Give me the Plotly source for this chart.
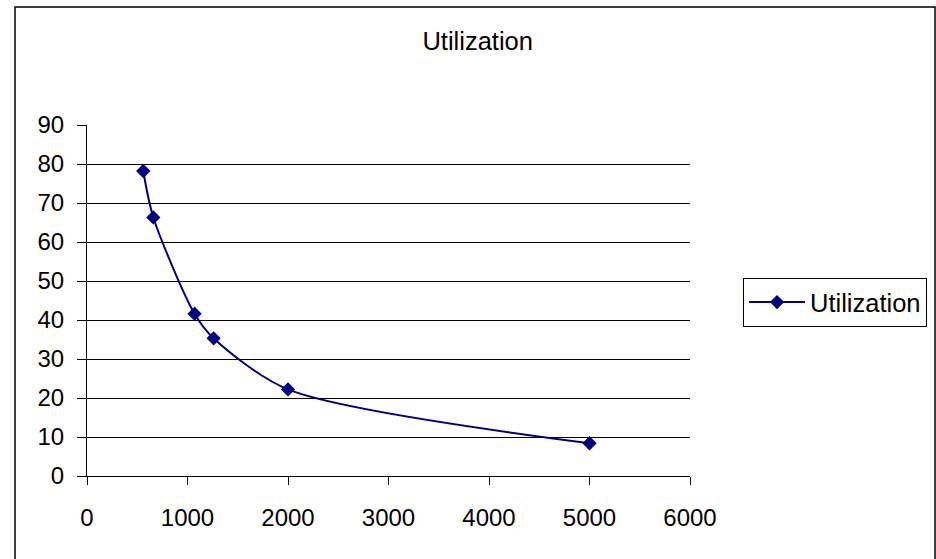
import plotly.graph_objects as go

# Data
x_values = [560, 660, 1070, 1260, 2000, 5000]
utilization = [78.2, 66.3, 41.6, 35.3, 22.2, 8.4]
series_name = "Utilization"
x_ticks = [0, 1000, 2000, 3000, 4000, 5000, 6000]
y_ticks = [0, 10, 20, 30, 40, 50, 60, 70, 80, 90]

W, H = 936, 559
L, R, T, B = 87, 690, 125, 476
FONT = "Liberation Sans, Arial, sans-serif"
FS = 24

fig = go.Figure()
fig.add_trace(go.Scatter(
    x=x_values, y=utilization, name=series_name,
    mode="lines+markers",
    line=dict(color="#000080", width=2, shape="spline", smoothing=0.8),
    marker=dict(symbol="diamond", size=11, color="#000080"),
))

pw, ph = R - L, B - T
def px(xp):
    return (xp - L) / pw
def py(yp):
    return (B - yp) / ph

fig.update_layout(
    width=W, height=H,
    margin=dict(l=L, r=W - R, t=T, b=H - B, pad=0, autoexpand=False),
    paper_bgcolor="white", plot_bgcolor="white",
    font=dict(family=FONT, size=FS, color="black"),
    title=dict(text="Utilization", x=477.7 / W, xanchor="center",
               y=1 - 41 / H, yanchor="middle",
               font=dict(family=FONT, size=25.5, color="black")),
    showlegend=True,
    legend=dict(xref="container", yref="container",
                x=743 / W, y=1 - 278 / H, xanchor="left", yanchor="top",
                bordercolor="black", borderwidth=1, bgcolor="white",
                font=dict(family=FONT, size=25.5, color="black"),
                itemwidth=56),
    xaxis=dict(range=[0, 6000], tickvals=x_ticks, ticktext=[str(v) for v in x_ticks],
               showgrid=False, zeroline=False, showline=True, linecolor="black", linewidth=1,
               ticks="outside", ticklen=8, tickcolor="black", tickwidth=1,
               ticklabelstandoff=12, fixedrange=True),
    yaxis=dict(range=[0, 90], tickvals=y_ticks, ticktext=[str(v) for v in y_ticks],
               showgrid=True, gridcolor="black", gridwidth=1, zeroline=False,
               showline=True, linecolor="black", linewidth=1,
               ticks="outside", ticklen=9, tickcolor="black", tickwidth=1,
               ticklabelstandoff=8, fixedrange=True),
    shapes=[dict(type="rect", xref="paper", yref="paper",
                 x0=px(15), x1=px(935), y0=py(570), y1=py(7),
                 line=dict(color="black", width=1.5), fillcolor="rgba(0,0,0,0)",
                 layer="below")],
)

fig.write_html("out.html")
